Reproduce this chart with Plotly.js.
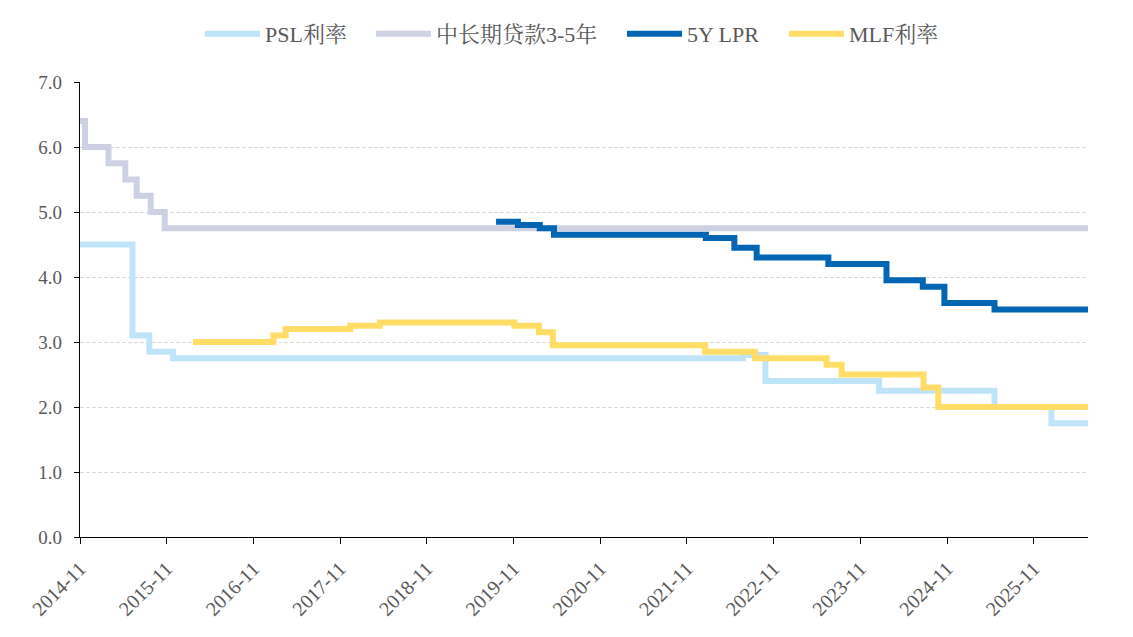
<!DOCTYPE html>
<html>
<head>
<meta charset="utf-8">
<script src="https://cdn.plot.ly/plotly-3.0.1.min.js"></script>
<style>
html,body{margin:0;padding:0;background:#fff;}
#chart{width:1133px;height:637px;}
</style>
</head>
<body>
<div id="chart"></div>
<script>
// ---- data (step change dates and values, %) ----
const seriesNames = ["PSL利率", "中长期贷款3-5年", "5Y LPR", "MLF利率"];

const pslDates  = ["2014-11-01","2015-06-10","2015-08-20","2015-11-28","2022-06-25","2022-09-28","2024-01-20","2025-05-20","2026-01-15","2026-06-18"];
const pslValues = [4.50, 3.10, 2.85, 2.75, 2.80, 2.40, 2.25, 2.00, 1.75, 1.75];

const loanDates  = ["2014-11-01","2014-11-22","2015-03-01","2015-05-11","2015-06-28","2015-08-26","2015-10-24","2026-06-18"];
const loanValues = [6.40, 6.00, 5.75, 5.50, 5.25, 5.00, 4.75, 4.75];

const lprDates  = ["2019-08-20","2019-11-20","2020-02-20","2020-04-20","2022-01-20","2022-05-20","2022-08-22","2023-06-20","2024-02-20","2024-07-22","2024-10-21","2025-05-20","2026-06-18"];
const lprValues = [4.85, 4.80, 4.75, 4.65, 4.60, 4.45, 4.30, 4.20, 3.95, 3.85, 3.60, 3.50, 3.50];

const mlfDates  = ["2016-02-20","2017-01-24","2017-03-16","2017-12-14","2018-04-17","2019-11-05","2020-02-17","2020-04-15","2022-01-17","2022-08-15","2023-06-13","2023-08-15","2024-07-25","2024-09-25","2026-06-18"];
const mlfValues = [3.00, 3.10, 3.20, 3.25, 3.30, 3.25, 3.15, 2.95, 2.85, 2.75, 2.65, 2.50, 2.30, 2.00, 2.00];

const xRange = ["2014-11-01", "2026-06-18"];
const yTicks = [0, 1, 2, 3, 4, 5, 6, 7];

const colors = ["#BFE4FA", "#CDD1E3", "#0066B3", "#FFDD66"];

const FONT = "'Liberation Serif', 'Times New Roman', 'Noto Serif CJK SC', 'Noto Sans CJK SC', serif";

// legend entry positions (container fraction) — one legend box per series
const legendIds = ["legend", "legend2", "legend3", "legend4"];
const legendX = [200 / 1133, 371 / 1133, 622 / 1133, 784 / 1133];

function mk(i, x, y) {
  return {
    type: "scatter", mode: "lines", name: seriesNames[i],
    x: x, y: y, legend: legendIds[i],
    line: {shape: "hv", color: colors[i], width: 6}
  };
}

const traces = [
  mk(0, pslDates, pslValues),
  mk(1, loanDates, loanValues),
  mk(2, lprDates, lprValues),
  mk(3, mlfDates, mlfValues)
];

function legendBox(i) {
  return {
    orientation: "h", xref: "container", yref: "container",
    x: legendX[i], xanchor: "left", y: 1 - 34 / 637, yanchor: "middle",
    font: {family: FONT, size: 22, color: "#595959"},
    itemwidth: 55, bgcolor: "rgba(0,0,0,0)", borderwidth: 0
  };
}

const layout = {
  width: 1133, height: 637,
  margin: {l: 80, r: 45, t: 82, b: 100},
  paper_bgcolor: "#fff", plot_bgcolor: "#fff",
  font: {family: FONT, size: 19, color: "#595959"},
  showlegend: true,
  legend: legendBox(0), legend2: legendBox(1), legend3: legendBox(2), legend4: legendBox(3),
  xaxis: {
    type: "date", range: xRange,
    tick0: "2014-11-01", dtick: "M12", tickformat: "%Y-%m",
    tickangle: -45,
    ticks: "outside", ticklen: 6, tickcolor: "#000", tickwidth: 1,
    ticklabelstandoff: 5,
    showline: true, linecolor: "#000", linewidth: 1.2,
    showgrid: false, zeroline: false,
    tickfont: {family: FONT, size: 20, color: "#595959"}
  },
  yaxis: {
    range: [0, 7], tickvals: yTicks, tickformat: ".1f",
    ticks: "outside", ticklen: 5, tickcolor: "#000", tickwidth: 1,
    ticklabelstandoff: 8,
    showline: true, linecolor: "#000", linewidth: 1.2,
    showgrid: true, gridcolor: "#D9D9D9", griddash: "4px,2px", gridwidth: 1,
    zeroline: false,
    tickfont: {family: FONT, size: 19, color: "#595959"}
  }
};

Plotly.newPlot("chart", traces, layout, {displayModeBar: false, staticPlot: true});
</script>
</body>
</html>
